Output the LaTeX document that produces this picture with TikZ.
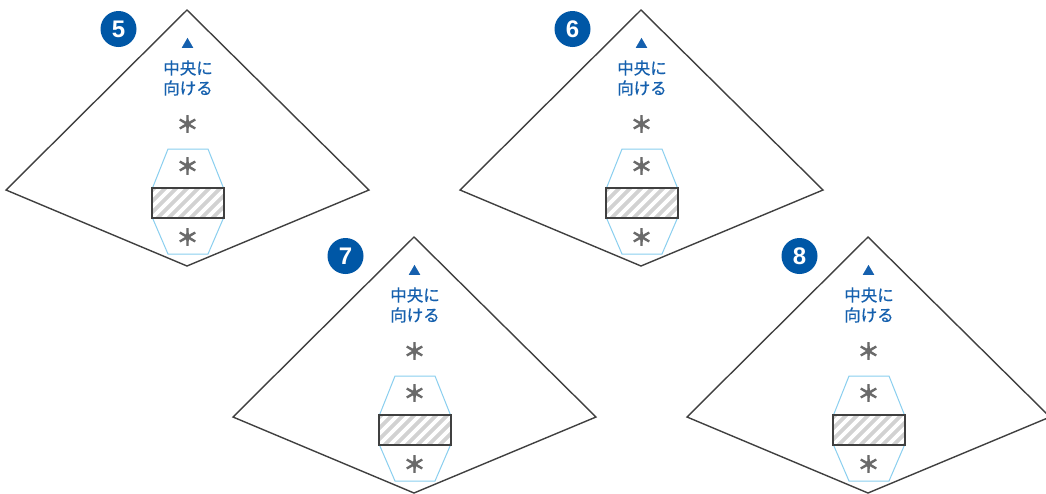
\documentclass[tikz,border=0pt]{standalone}
\usepackage{fontspec}
\newfontfamily\jp{Noto Sans CJK JP}[FakeBold=0.6]
\newfontfamily\jpheavy{Noto Sans CJK JP}[FakeBold=5]
\newfontfamily\numfont{Liberation Sans}
\definecolor{lineg}{HTML}{404040}
\definecolor{jblue}{HTML}{1560AE}
\definecolor{badgeblue}{HTML}{0057A6}
\definecolor{hexb}{HTML}{8ACFEF}
\definecolor{astg}{HTML}{6A6A6A}
\definecolor{hatchg}{HTML}{D2D2D2}
\tikzset{
  outline/.style={draw=lineg, line width=1.4pt, line join=miter},
  hexline/.style={draw=hexb, line width=1pt},
  boxline/.style={draw=lineg, line width=1.6pt},
  badge/.style={circle, fill=badgeblue, minimum size=36pt, inner sep=0pt, text=white, font=\numfont\bfseries\fontsize{24}{24}\selectfont},
  ast/.style={text=astg, inner sep=0pt, font=\jpheavy\fontsize{22}{22}\selectfont},
  tri/.style={text=jblue, inner sep=0pt, font=\jp\fontsize{12}{12}\selectfont},
  label/.style={text=jblue, align=center, inner sep=0pt, font=\jp\fontsize{16.5}{20}\selectfont}
}
\begin{document}
\begin{tikzpicture}[x=1pt,y=-1pt]
\useasboundingbox (0,0) rectangle (1046,493);
\fill[white] (0,0) rectangle (1046,493);
\foreach \n/\dx/\dy in {5/0/0,6/454/0,7/227/227,8/681/227}{
\begin{scope}[shift={(\dx,\dy)}]
  \draw[outline] (187,10) -- (369,190) -- (187,266) -- (6,190) -- cycle;
  \draw[hexline] (168,149) -- (208,149) -- (223.5,188) -- (223.5,218) -- (208,254) -- (168,254) -- (152.5,218) -- (152.5,188) -- cycle;
  \begin{scope}
    \clip (152,188) rectangle (224,218);
    \fill[hatchg] (152,188) rectangle (224,218);
    \foreach \k in {-4,...,9} \draw[white, line width=3.6pt] (140+\k*11, 230) -- (190+\k*11,180);
  \end{scope}
  \draw[boxline] (152,188) rectangle (224,218);
  \node[badge] (b\n) at (118.5,29) {\n};
  \node[tri] (t\n) at (187.5,43) {▲};
  \node[label] (l\n) at (188,78) {中央に\\向ける};
  \node[ast] (a\n) at (187.5,124) {＊};
  \node[ast] (c\n) at (187.5,166) {＊};
  \node[ast] (d\n) at (187.5,237) {＊};
\end{scope}}
\end{tikzpicture}
\end{document}
